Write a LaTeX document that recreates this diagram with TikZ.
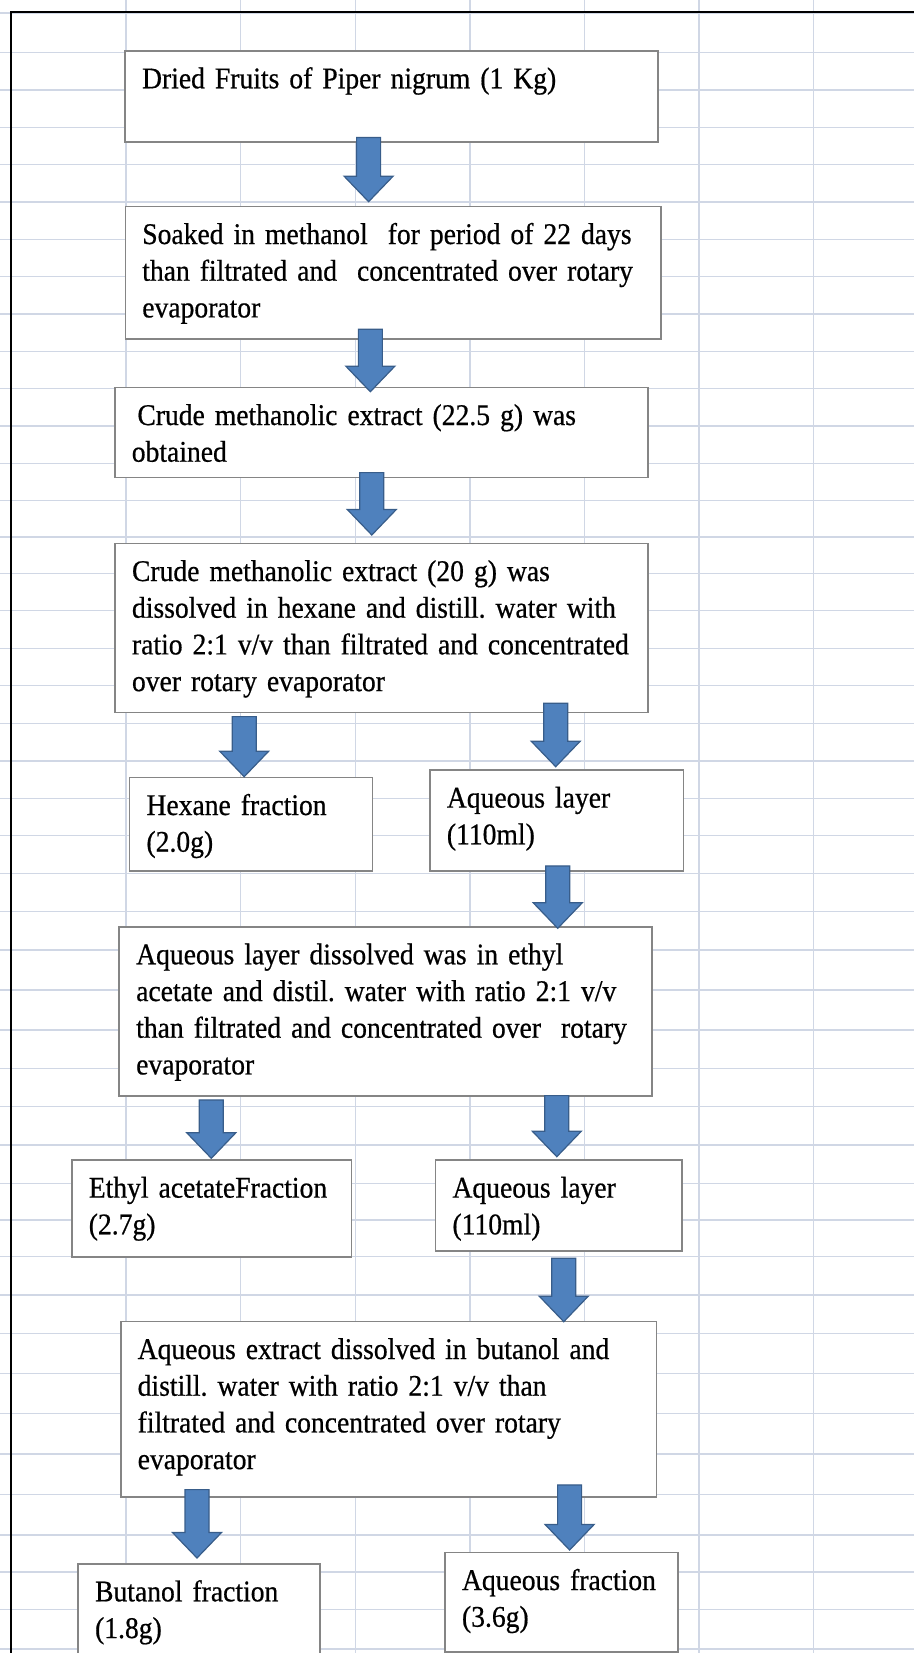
\documentclass[tikz,border=0pt]{standalone}
\usepackage{fontspec}
\setmainfont{Liberation Serif}[FakeStretch=0.92, WordSpace=0.75, FakeBold=0.6]
\usetikzlibrary{calc}
\definecolor{gridblue}{HTML}{D0D7E5}
\definecolor{boxline}{HTML}{858585}
\definecolor{arrowfill}{HTML}{4F81BD}
\definecolor{arrowedge}{HTML}{385D8A}
\frenchspacing
\begin{document}
\begin{tikzpicture}[
  x=1pt, y=-1pt,
  stage/.style={draw=boxline, line width=1.6pt, fill=white, anchor=north west,
                align=left, inner sep=17pt, text height=20.5pt,
                font=\fontsize{30}{36.7}\selectfont,
                execute at begin node={\hyphenpenalty=10000\rightskip=0pt plus 1fil minus 60pt}},
  gridline/.style={draw=gridblue, line width=1.4pt},
  frame/.style={draw=black, line width=2.2pt},
  blockarrow/.style={fill=arrowfill, draw=arrowedge, line width=1.2pt,
    to path={let \p1=(\tikztostart), \p2=(\tikztotarget) in
      (\x1-12pt,\y1) -- (\x1-12pt,\y2+25.5pt) -- (\x1-24.5pt,\y2+25.5pt) -- (\x1,\y2)
      -- (\x1+24.5pt,\y2+25.5pt) -- (\x1+12pt,\y2+25.5pt) -- (\x1+12pt,\y1) -- cycle}}
]
\useasboundingbox (0,0) rectangle (914,1653);
\clip (0,0) rectangle (914,1653);

% Sheet grid
\foreach \gx in {126,240.6,355.2,469.8,584.4,699,813.6}
  \draw[gridline] (\gx,0) -- (\gx,1653);
\foreach \gy in {13,52.3,90,127.3,164.7,202,239.3,276.7,314,351.3,388.7,426,463.3,
                 500.7,537,573.3,610.7,648.3,685.7,723.5,761,798.3,835.5,873.3,911.7,
                 950,990,1030,1068.3,1106.7,1145,1183.3,1220,1256.7,1295,1333.3,
                 1373.3,1413.7,1454,1494.7,1535,1572,1609.7,1649}
  \draw[gridline] (0,\gy) -- (914,\gy);

% Border
\draw[frame] (10.7,1653) -- (10.7,12.3) -- (914,12.3);

% Extraction
\node[stage, text width=499pt, text depth=37pt] (dried) at (124.3,50)
  {Dried Fruits of Piper nigrum (1 Kg)};
\node[stage, text width=501.5pt, text depth=78.1pt] (soaked) at (124.5,205.7)
  {Soaked in methanol~ for period of 22 days\\than filtrated and~ concentrated over rotary\\evaporator};
\node[stage, text width=499pt, text depth=35.5pt] (crude) at (114,386.7)
  {\hspace*{5.6pt}Crude methanolic extract (22.5 g) was\\obtained};

% Hexane partition
\node[stage, text width=499pt, text depth=114.5pt] (hexdiss) at (114.2,542.7)
  {Crude methanolic extract (20 g) was\\dissolved in hexane and distill. water with\\ratio 2:1 v/v than filtrated and concentrated\\over rotary evaporator};
\node[stage, text width=209pt, text depth=38.8pt] (hexane) at (128.7,776.7)
  {Hexane fraction\\(2.0g)};
\node[stage, text width=219.7pt, text depth=46.2pt] (aqone) at (429.1,769.3)
  {Aqueous layer\\(110ml)};

% Ethyl acetate partition
\node[stage, text width=498.6pt, text depth=114.5pt] (ethdiss) at (118.4,926)
  {Aqueous layer dissolved was in ethyl\\acetate and distil. water with ratio 2:1 v/v\\than filtrated and concentrated over~ rotary\\evaporator};
\node[stage, text width=245.6pt, text depth=42.2pt] (ethyl) at (71,1159.3)
  {Ethyl acetateFraction\\(2.7g)};
\node[stage, text width=212.5pt, text depth=36.2pt] (aqtwo) at (434.7,1159.3)
  {Aqueous layer\\(110ml)};

% Butanol partition
\node[stage, text width=501.8pt, text depth=120.8pt] (butdiss) at (119.9,1320.7)
  {Aqueous extract dissolved in butanol and\\distill. water with ratio 2:1 v/v than\\filtrated and concentrated over rotary\\evaporator};
\node[stage, text width=208.1pt, text depth=42.5pt] (butanol) at (77.3,1563)
  {Butanol fraction\\(1.8g)};
\node[stage, text width=199.2pt, text depth=45.1pt] (aqfrac) at (444.2,1551.7)
  {Aqueous fraction\\(3.6g)};

% Block arrows
\draw[blockarrow] ([shift={(-23,-5.5)}]dried.south) to ([shift={(0,-4)}]soaked.north);
\draw[blockarrow] ([shift={(-22.7,-10.6)}]soaked.south) to ([shift={(0,5)}]crude.north);
\draw[blockarrow] ([shift={(-9.5,-5.7)}]crude.south) to ([shift={(0,-7.7)}]hexdiss.north);
\draw[blockarrow] ([shift={(-137.3,3.3)}]hexdiss.south) to (hexane.north);
\draw[blockarrow] ([shift={(174.2,-10)}]hexdiss.south) to ([shift={(0,-2.6)}]aqone.north);
\draw[blockarrow] ([shift={(1,-5.7)}]aqone.south) to ([shift={(0,2.3)}]ethdiss.north);
\draw[blockarrow] ([shift={(-174.2,3.3)}]ethdiss.south) to ([shift={(0,-1)}]ethyl.north);
\draw[blockarrow] ([shift={(171.3,-1)}]ethdiss.south) to ([shift={(0,-2.6)}]aqtwo.north);
\draw[blockarrow] ([shift={(5,6.7)}]aqtwo.south) to ([shift={(0,1)}]butdiss.north);
\draw[blockarrow] ([shift={(-191.6,-8)}]butdiss.south) to ([shift={(0,-5)}]butanol.north);
\draw[blockarrow] ([shift={(181,-12.7)}]butdiss.south) to ([shift={(0,-1.7)}]aqfrac.north);

\end{tikzpicture}
\end{document}
